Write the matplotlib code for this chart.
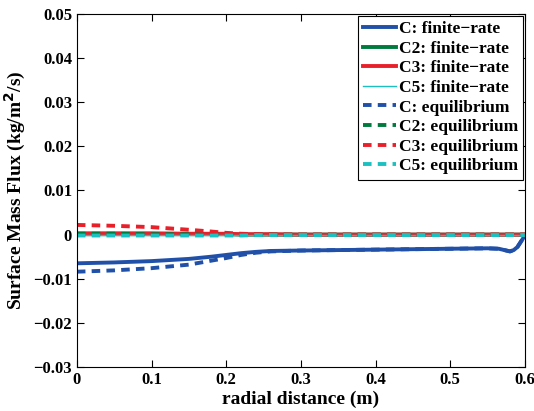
import matplotlib
matplotlib.use('Agg')
import matplotlib.pyplot as plt
import numpy as np

plt.rcParams['font.family'] = ['Liberation Serif', 'DejaVu Serif']
plt.rcParams['font.weight'] = 'bold'
plt.rcParams['mathtext.default'] = 'bf'

# radial stations (m) and surface mass flux (kg/m^2/s)
r = [0.0, 0.05, 0.1, 0.15, 0.18, 0.2, 0.22, 0.24, 0.26, 0.3, 0.35, 0.4,
     0.45, 0.5, 0.55, 0.565, 0.575, 0.58, 0.585, 0.59, 0.595, 0.6]

c_fin = [-0.0065, -0.0063, -0.0060, -0.0055, -0.0050, -0.0046, -0.0042, -0.0039, -0.0037,
         -0.0036, -0.0035, -0.0034, -0.0033, -0.0032, -0.0031, -0.0032, -0.0036, -0.0038,
         -0.0035, -0.0028, -0.0015, -0.0002]
c2_fin = [0.0001, 0.0001, 0.0001, 0.0001, 0.0001, 0.0001, 0.0, 0.0, 0.0, 0.0, 0.0, 0.0,
          0.0, 0.0, 0.0, 0.0, 0.0, 0.0, 0.0, 0.0, 0.0, 0.0]
c3_fin = [0.0003, 0.0003, 0.0003, 0.0002, 0.0002, 0.0002, 0.0001, 0.0001, 0.0001, 0.0,
          0.0, 0.0, 0.0, 0.0, 0.0, 0.0, 0.0, 0.0, 0.0, 0.0, 0.0, 0.0]
c5_fin = [-0.0001, -0.0001, -0.0001, -0.0001, -0.0001, -0.0001, -0.0001, -0.0001, -0.0001,
          -0.0001, -0.0001, -0.0001, -0.0001, -0.0001, -0.0001, -0.0001, -0.0001, -0.0001,
          -0.0001, -0.0001, -0.0001, -0.0001]

c_eq = [-0.0084, -0.0081, -0.0076, -0.0068, -0.0059, -0.0053, -0.0046, -0.0041, -0.0038,
        -0.0036, -0.0035, -0.0034, -0.0033, -0.0032, -0.0031, -0.0032, -0.0036, -0.0038,
        -0.0035, -0.0028, -0.0015, -0.0002]
c2_eq = [0.0002, 0.0002, 0.0001, 0.0001, 0.0001, 0.0001, 0.0, 0.0, 0.0, 0.0, 0.0, 0.0,
         0.0, 0.0, 0.0, 0.0, 0.0, 0.0, 0.0, 0.0, 0.0, 0.0]
c3_eq = [0.0022, 0.0020, 0.0017, 0.0011, 0.0007, 0.0004, 0.0002, 0.0001, 0.0, 0.0, 0.0,
         0.0, 0.0, 0.0, 0.0, 0.0, 0.0, 0.0, 0.0, 0.0, 0.0, 0.0]
c5_eq = [-0.0002, -0.0002, -0.0002, -0.0002, -0.0002, -0.0002, -0.0002, -0.0001, -0.0001,
         -0.0001, -0.0001, -0.0001, -0.0001, -0.0001, -0.0001, -0.0001, -0.0001, -0.0001,
         -0.0001, -0.0001, -0.0001, -0.0001]

blue = '#2050a8'
green = '#007a3d'
red = '#e8202a'
cyan = '#1cc0c0'
dash = (0, (2.2, 1.6))

fig = plt.figure(figsize=(5.34, 4.11), dpi=100)
ax = fig.add_axes([0.144, 0.107, 0.839, 0.859])

ax.plot(r, c_fin, color=blue, lw=2.8, label='C: finite\u2212rate')
ax.plot(r, c2_fin, color=green, lw=2.8, label='C2: finite\u2212rate')
ax.plot(r, c3_fin, color=red, lw=2.8, label='C3: finite\u2212rate')
ax.plot(r, c5_fin, color=cyan, lw=1.0, label='C5: finite\u2212rate')
ax.plot(r, c_eq, color=blue, lw=2.8, ls=dash, label='C: equilibrium')
ax.plot(r, c2_eq, color=green, lw=2.8, ls=dash, label='C2: equilibrium')
ax.plot(r, c3_eq, color=red, lw=2.8, ls=dash, label='C3: equilibrium')
ax.plot(r, c5_eq, color=cyan, lw=2.8, ls=dash, label='C5: equilibrium')

ax.set_xlim(0, 0.6)
ax.set_ylim(-0.03, 0.05)
ax.set_xticks(np.arange(0, 0.61, 0.1))
ax.set_yticks(np.arange(-0.03, 0.051, 0.01))
ax.set_xticklabels(['0', '0.1', '0.2', '0.3', '0.4', '0.5', '0.6'])
ax.set_yticklabels(['\u22120.03', '\u22120.02', '\u22120.01', '0', '0.01', '0.02', '0.03', '0.04', '0.05'])
ax.tick_params(direction='in', top=True, right=True, labelsize=12, length=5, width=0.8)
for s in ax.spines.values():
    s.set_linewidth(0.8)

ax.set_xlabel('radial distance (m)', fontsize=14, fontweight='bold', labelpad=2)
ax.set_ylabel('Surface Mass Flux (kg/m$^2$/s)', fontsize=14, fontweight='bold', labelpad=4)

leg = ax.legend(loc='upper right', fontsize=12.5, handlelength=1.9, handletextpad=0.15,
                labelspacing=0.2, borderpad=0.3, fancybox=False, framealpha=1,
                borderaxespad=0.1)
leg.get_frame().set_edgecolor('black')
leg.get_frame().set_linewidth(0.8)

fig.savefig('out.png', dpi=100)
